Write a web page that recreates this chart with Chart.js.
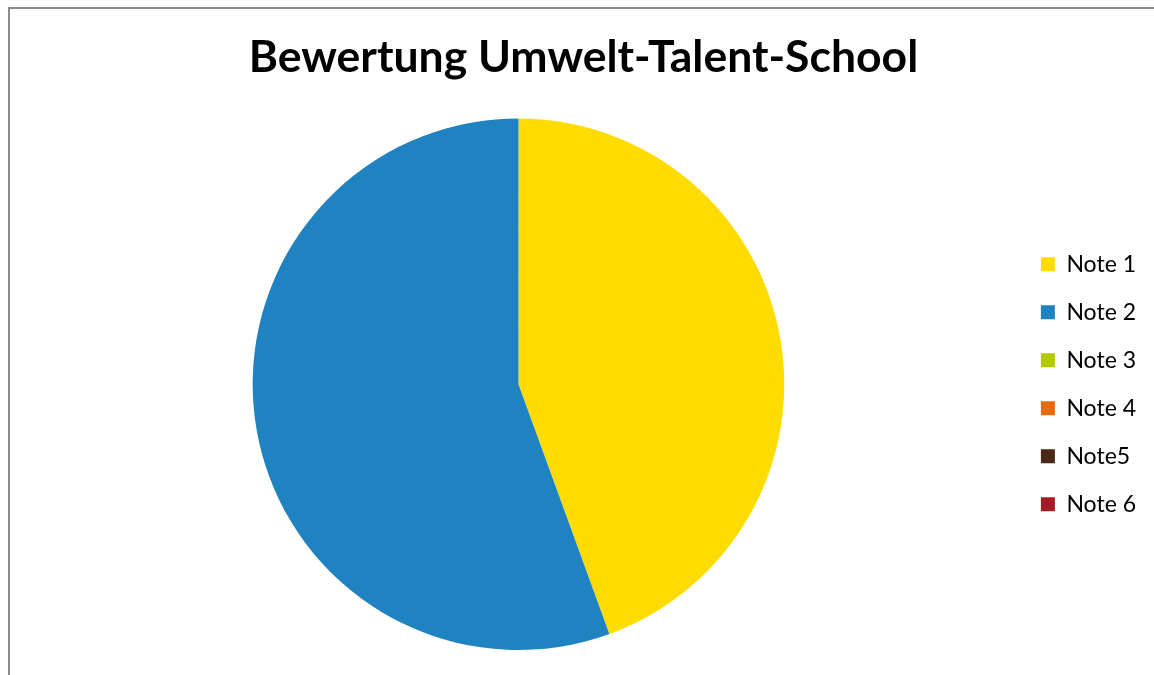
<!DOCTYPE html>
<html lang="de">
<head>
    <meta charset="UTF-8">
    <title>Bewertung Umwelt-Talent-School</title>
    <script src="https://cdn.jsdelivr.net/npm/chart.js"></script>
    <style>
        html, body { margin: 0; padding: 0; background: #fff; }
        .frame {
            position: absolute; left: 8px; top: 7px; width: 1146px; height: 668px;
            border-left: 2px solid #8a8a8a; border-top: 2px solid #8a8a8a; box-sizing: border-box;
        }
        #chart { position: absolute; left: 0; top: 0; }
    </style>
</head>
<body>
    <div class="frame"></div>
    <canvas id="chart" width="1154" height="675"></canvas>

    <script>
        const labels = ['Note 1', 'Note 2', 'Note 3', 'Note 4', 'Note5', 'Note 6'];
        const votes = [4, 5, 0, 0, 0, 0];
        const colors = ['#FFDC00', '#1F83C1', '#B2C800', '#E8690E', '#4A2917', '#A21D24'];

        const ctx = document.getElementById('chart').getContext('2d');
        new Chart(ctx, {
            type: 'pie',
            data: {
                labels: labels,
                datasets: [{
                    data: votes,
                    backgroundColor: colors,
                    borderWidth: 0
                }]
            },
            options: {
                responsive: false,
                animation: false,
                layout: { padding: { left: 21, right: 8, top: 0, bottom: 25 } },
                plugins: {
                    title: {
                        display: true,
                        text: 'Bewertung Umwelt-Talent-School',
                        color: '#000',
                        font: { family: 'Lato', size: 44.5, weight: 'bold' },
                        padding: { top: 31, bottom: 34 }
                    },
                    legend: {
                        position: 'right',
                        fullSize: false,
                        labels: {
                            color: '#000',
                            font: { family: 'Lato', size: 23 },
                            boxWidth: 14,
                            boxHeight: 14,
                            padding: 25
                        }
                    },
                    tooltip: { enabled: false }
                }
            }
        });
    </script>
</body>
</html>
